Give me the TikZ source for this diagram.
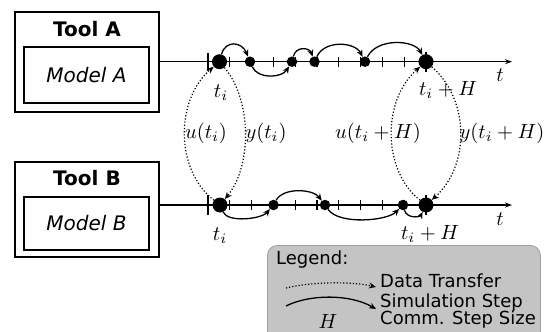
\documentclass[tikz,border=0pt]{standalone}
\usepackage{fontspec}
\newfontfamily\dejavu{DejaVu Sans}
\usetikzlibrary{arrows.meta}
\definecolor{legendgray}{RGB}{196,196,196}
\definecolor{legendedge}{RGB}{160,160,160}
\begin{document}
\begin{tikzpicture}[x=1pt,y=-1pt,
  outerbox/.style={draw, line width=1.8pt, inner sep=0pt, minimum width=144pt},
  innerbox/.style={draw, line width=1.3pt, inner sep=0pt, minimum width=125pt, font=\dejavu\itshape\fontsize{20}{24}\selectfont},
  tooltitle/.style={font=\dejavu\bfseries\fontsize{20}{24}\selectfont, inner sep=0pt},
  axis/.style={line width=1.2pt, -{Stealth[length=7pt,width=5pt]}},
  tickmark/.style={line width=1.1pt},
  bigdot/.style={circle, fill=black, inner sep=0pt, minimum size=15pt},
  smalldot/.style={circle, fill=black, inner sep=0pt, minimum size=10.5pt},
  sim/.style={line width=1.3pt, -{Stealth[length=7pt,width=6pt]}},
  dt/.style={dotted, line width=1.2pt, -{Stealth[length=7pt,width=6pt]}},
  mlab/.style={font=\fontsize{10}{12}\selectfont, scale=2.05, inner sep=0pt},
  legtext/.style={font=\dejavu\fontsize{18}{20}\selectfont, inner sep=0pt, anchor=west, text height=0.75em, text depth=0.25em},
  legendbox/.style={draw=legendedge, line width=0.8pt, fill=legendgray, rounded corners=10pt, inner sep=0pt}
]
\useasboundingbox (0,0) rectangle (544,332);
\clip (0,0) rectangle (544,332);

% Tool boxes
\node[outerbox, minimum height=100pt] (outerA) at (87,62) {};
\node[innerbox, minimum height=56pt] (innerA) at (86.5,75) {Model A};
\node[tooltitle] (titleA) at (87,29.5) {Tool A};
\node[outerbox, minimum height=95pt] (outerB) at (87,209.5) {};
\node[innerbox, minimum height=53pt] (innerB) at (86.5,223.5) {Model B};
\node[tooltitle] (titleB) at (87,178) {Tool B};

% axes
\coordinate (endA) at (512,61.7);
\coordinate (endB) at (512,205);
\draw[axis] (outerA.east |- endA) -- (endA);
\draw[axis] (outerB.east |- endB) -- (endB);

% ticks
\foreach \k in {1,...,9} {
  \draw[tickmark] (208+21.8*\k,56.7) -- ++(0,10);
  \draw[tickmark] (208+21.8*\k,200) -- ++(0,10);
}
\draw[tickmark] (208,52.7) -- ++(0,18);
\draw[tickmark] (426,51.7) -- ++(0,20);
\draw[tickmark] (208,195) -- ++(0,20);
\draw[tickmark] (426,195) -- ++(0,20);

% axis labels
\node[mlab] (tlabA) at (500,75) {$t$};
\node[mlab] (tlabB) at (500,219) {$t$};

% dots top
\node[bigdot] (tA) at (219.5,61.7) {};
\node[smalldot] (a1) at (250,61.7) {};
\node[smalldot] (a2) at (292,61.7) {};
\node[smalldot] (a3) at (314.5,61.7) {};
\node[smalldot] (a4) at (365,61.7) {};
\node[bigdot] (tB) at (426,61.7) {};

% dots bottom
\node[bigdot] (bA) at (220,205) {};
\node[smalldot] (b1) at (273.5,205) {};
\node[smalldot] (b2) at (325,205) {};
\node[smalldot] (b3) at (403,205) {};
\node[bigdot] (bB) at (426,205) {};

% simulation steps top
\draw[sim] (tA) .. controls +(6,-22) and +(-8,-20) .. (a1);
\draw[sim] (a1) .. controls +(8,18) and +(-10,16) .. (a2);
\draw[sim] (a2) .. controls +(4,-16) and +(-5,-14) .. (a3);
\draw[sim] (a3) .. controls +(10,-22) and +(-10,-20) .. (a4);
\draw[sim] (a4) .. controls +(12,-24) and +(-12,-22) .. (tB);

% simulation steps bottom
\draw[sim] (bA) .. controls +(8,18) and +(-12,14) .. (b1);
\draw[sim] (b1) .. controls +(10,-18) and +(-12,-16) .. (b2);
\draw[sim] (b2) .. controls +(14,20) and +(-16,16) .. (b3);
\draw[sim] (b3) .. controls +(4,14) and +(-6,12) .. (bB);

% data transfer
\draw[dt] (bA) .. controls (175,170) and (175,100) .. (tA);
\draw[dt] (tA) .. controls (252,100) and (252,166) .. (bA);
\draw[dt] (bB) .. controls (382,170) and (382,100) .. (tB);
\draw[dt] (tB) .. controls (470,100) and (470,166) .. (bB);

% labels
\node[mlab] (ltiA) at (221,93) {$t_i$};
\node[mlab] (ltiHA) at (448,90) {$t_i+H$};
\node[mlab] (ltiB) at (220,236) {$t_i$};
\node[mlab] (ltiHB) at (430,234) {$t_i+H$};
\node[mlab] (lu1) at (206,133) {$u(t_i)$};
\node[mlab] (ly1) at (266,133) {$y(t_i)$};
\node[mlab] (lu2) at (378,133) {$u(t_i+H)$};
\node[mlab] (ly2) at (502,133) {$y(t_i+H)$};

% legend
\node[legendbox, anchor=north west, minimum width=273pt, minimum height=110pt] (legend) at (267,245) {};
\node[legtext] (legtitle) at (276,262) {Legend:};
\coordinate (ld1) at (286,288);
\coordinate (ld2) at (376,287);
\draw[dt] (ld1) .. controls (310,282) and (350,281) .. (ld2);
\node[legtext] (legdt) at (380,285) {Data Transfer};
\coordinate (ls1) at (286,306);
\coordinate (ls2) at (376,309);
\draw[sim] (ls1) .. controls (310,294) and (350,294) .. (ls2);
\node[legtext] (legsim) at (380,304.5) {Simulation Step};
\node[mlab] (legH) at (328,321) {$H$};
\node[legtext] (legH2) at (380,322) {Comm. Step Size};
\end{tikzpicture}
\end{document}
